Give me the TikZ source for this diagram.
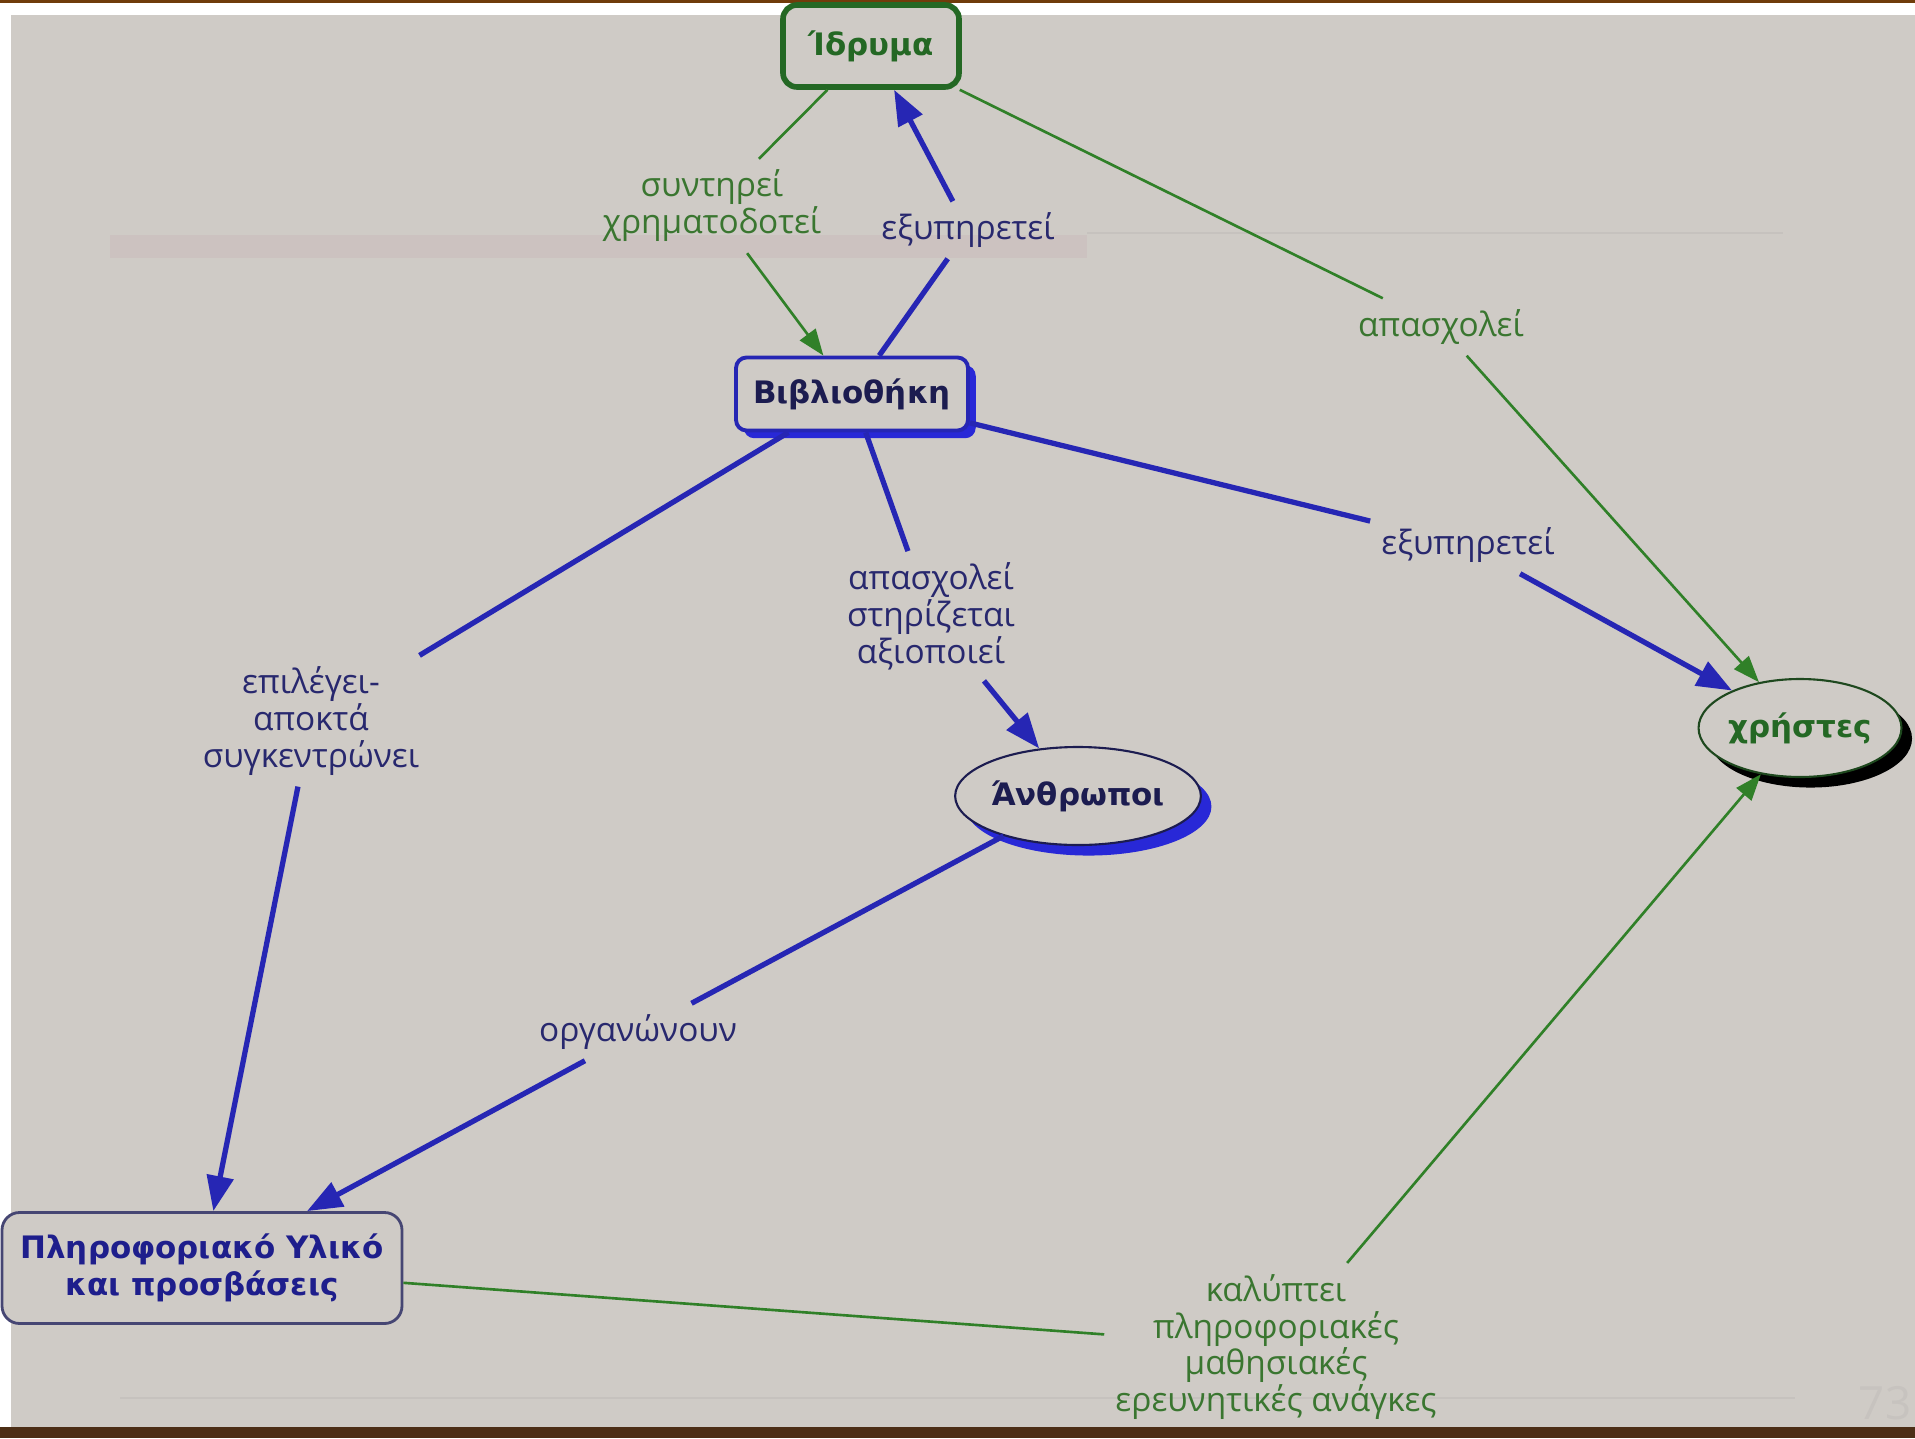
\documentclass[tikz,border=0pt]{standalone}
\usepackage{fontspec}
\setmainfont{DejaVu Sans}
\newfontfamily\linkfont{Open Sans}
\usepackage{xcolor}
\usetikzlibrary{arrows.meta, positioning, shapes.geometric, shadows}
\definecolor{slidegray}{RGB}{207,203,198}
\definecolor{slidebrown}{RGB}{112,60,10}
\definecolor{darkbrown}{RGB}{76,46,22}
\definecolor{bandpink}{RGB}{204,194,192}
\definecolor{faintline}{RGB}{198,194,190}
\definecolor{faintnum}{RGB}{199,195,191}
\definecolor{mygreen}{RGB}{48,128,40}
\definecolor{darkgreen}{RGB}{36,104,36}
\definecolor{ovalgreen}{RGB}{30,72,30}
\definecolor{myblue}{RGB}{38,38,180}
\definecolor{brightblue}{RGB}{40,40,215}
\definecolor{navy}{RGB}{28,28,80}
\definecolor{navytext}{RGB}{40,40,110}
\definecolor{greentext}{RGB}{58,118,48}
\definecolor{boxnavy}{RGB}{30,30,140}
\definecolor{greyframe}{RGB}{70,70,115}

\begin{document}
\begin{tikzpicture}[
    nodefont/.style={font=\bfseries\fontsize{8.8}{10.5}\selectfont},
    cbox/.style={nodefont, rectangle, rounded corners=#1, fill=slidegray,
                 align=center, inner sep=0pt},
    cbox/.default=4pt,
    oval/.style={nodefont, ellipse, fill=slidegray, inner sep=0pt},
    linktext/.style={font=\linkfont\fontsize{9.5}{10.5}\selectfont, align=center,
                     inner sep=3pt, text=#1},
    bluelink/.style={line width=1.5pt, color=myblue},
    greenlink/.style={line width=0.75pt, color=mygreen},
    bluearr/.style={bluelink, -{Triangle[length=10pt, width=7.5pt]}},
    greenarr/.style={greenlink, -{Triangle[length=7.5pt, width=5.5pt]}}
  ]
    \useasboundingbox (0,0) rectangle (19.15,-14.38);

    % slide background
    \fill[white] (0,0) rectangle (19.15,-14.38);
    \fill[slidebrown] (0,0) rectangle (19.15,-0.03);
    \fill[slidegray] (0.11,-0.15) rectangle (19.15,-14.27);
    \fill[darkbrown] (0,-14.27) rectangle (19.15,-14.38);
    \fill[bandpink] (1.10,-2.35) rectangle (10.87,-2.58);
    \draw[faintline, line width=0.6pt] (10.87,-2.33) -- (17.83,-2.33);
    \draw[faintline, line width=0.6pt] (1.20,-13.98) -- (17.95,-13.98);
    \node[font=\linkfont\fontsize{13}{13}\selectfont, text=faintnum] (pagenum) at (18.85,-14.03) {73};

    % concepts
    \node[cbox=4pt, draw=darkgreen, line width=1.6pt, text=darkgreen,
          minimum width=1.76cm, minimum height=0.82cm] (idr) at (8.71,-0.46) {Ίδρυμα};
    \node[cbox=3pt, draw=myblue, line width=1.1pt, text=navy,
          minimum width=2.32cm, minimum height=0.73cm,
          drop shadow={shadow xshift=2.2pt, shadow yshift=-2.2pt, fill=brightblue, opacity=1}]
          (bib) at (8.52,-3.94) {Βιβλιοθήκη};
    \node[oval, draw=navy, line width=0.6pt, text=navy,
          minimum width=2.14cm, minimum height=0.98cm,
          drop shadow={shadow xshift=3pt, shadow yshift=-3pt, fill=brightblue, opacity=1}]
          (anth) at (10.78,-7.96) {Άνθρωποι};
    \node[oval, draw=ovalgreen, line width=0.6pt, text=darkgreen,
          minimum width=1.87cm, minimum height=0.98cm,
          drop shadow={shadow xshift=3pt, shadow yshift=-3pt, fill=black, opacity=1}]
          (users) at (18.00,-7.28) {χρήστες};
    \node[cbox=5pt, draw=greyframe, line width=0.8pt, text=boxnavy,
          minimum width=4.00cm, minimum height=1.11cm] (info) at (2.02,-12.68)
          {Πληροφοριακό Υλικό\\και προσβάσεις};

    % linking phrases
    \node[linktext=greentext] (fund)  at (7.12,-2.06) {συντηρεί\\χρηματοδοτεί};
    \node[linktext=navytext]  (serve) at (9.68,-2.30) {εξυπηρετεί};
    \node[linktext=greentext] (empl)  at (14.41,-3.27) {απασχολεί};
    \node[linktext=navytext]  (servu) at (14.68,-5.45) {εξυπηρετεί};
    \node[linktext=navytext]  (staff) at (9.31,-6.16) {απασχολεί\\στηρίζεται\\αξιοποιεί};
    \node[linktext=navytext]  (sel)   at (3.11,-7.21) {επιλέγει-\\αποκτά\\συγκεντρώνει};
    \node[linktext=navytext]  (org)   at (6.38,-10.32) {οργανώνουν};
    \node[linktext=greentext] (needs) at (12.76,-13.47)
          {καλύπτει\\πληροφοριακές\\μαθησιακές\\ερευνητικές ανάγκες};

    \draw[greenlink] (idr) -- (fund);
    \draw[greenarr]  (fund) -- (bib);
    \draw[bluelink]  (bib) -- (serve);
    \draw[bluearr]   (serve) -- (idr);
    \draw[greenlink] (idr) -- (empl);
    \draw[greenarr]  (empl) -- (users);
    \draw[bluelink]  (bib) -- (servu);
    \draw[bluearr]   (servu) -- (users);
    \draw[bluelink]  (bib) -- (staff);
    \draw[bluearr]   (staff) -- (anth);
    \draw[bluelink]  (bib) -- (sel);
    \draw[bluearr]   (sel) -- (info);
    \draw[bluelink]  (anth) -- (org);
    \draw[bluearr]   (org) -- (info);
    \draw[greenlink] (info) -- (needs);
    \draw[greenarr]  (needs) -- (users);
\end{tikzpicture}
\end{document}
